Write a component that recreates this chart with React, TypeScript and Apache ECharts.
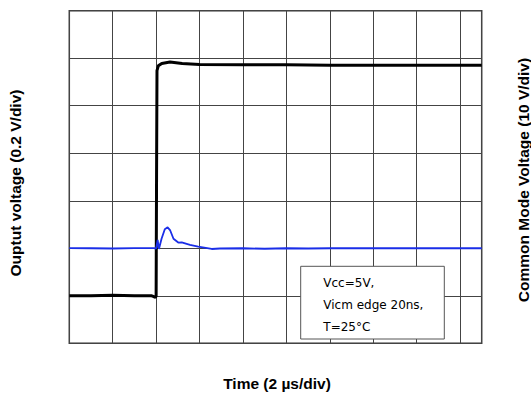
import React, { useEffect, useRef } from "react";
import * as echarts from "echarts";

// Time in µs (2 µs/div)
const xTicks = { min: 0, max: 19, interval: 2 };
// Common mode voltage step (V), right axis 10 V/div
const cmTime = [0, 1, 2, 3, 3.8, 3.9, 3.97, 4.0, 4.02, 4.04, 4.1, 4.26, 4.64, 5.2, 6.0, 8, 10, 12, 14, 16, 19];
const cmVolt = [10.0, 10.0, 10.1, 10.0, 10.0, 9.8, 9.7, 9.9, 35, 57.4, 58.4, 58.9, 59.2, 58.9, 58.7, 58.6, 58.6, 58.5, 58.5, 58.5, 58.5];
// Output voltage (V), left axis 0.2 V/div
const outTime = [0, 1, 2, 3, 3.9, 4.0, 4.03, 4.07, 4.13, 4.25, 4.4, 4.53, 4.65, 4.8, 5.02, 5.18, 5.56, 5.94, 6.56, 6.94, 8, 9, 10, 11, 12, 13, 14, 15, 16, 17, 18, 19];
const outVolt = [0.401, 0.400, 0.399, 0.401, 0.401, 0.399, 0.400, 0.435, 0.397, 0.44, 0.48, 0.488, 0.475, 0.44, 0.424, 0.425, 0.414, 0.407, 0.397, 0.399, 0.400, 0.398, 0.400, 0.399, 0.400, 0.401, 0.400, 0.400, 0.400, 0.401, 0.400, 0.400];

const xTitle = "Time (2 µs/div)";
const leftTitle = "Ouptut voltage (0.2 V/div)";
const rightTitle = "Common Mode Voltage (10 V/div)";
const noteLines = ["Vcc=5V,", "Vicm edge 20ns,", "T=25°C"];

export default function App() {
  const ref = useRef<HTMLDivElement>(null);
  useEffect(() => {
    if (!ref.current) return;
    const chart = echarts.init(ref.current, undefined, { renderer: "svg" });
    const gridLeft = 69.3, gridTop = 10.7, gridW = 412.4, gridH = 332.6;
    const hidden = { axisLine: { show: false }, axisTick: { show: false }, axisLabel: { show: false } };
    const split = { show: true, lineStyle: { color: "#444", width: 1 } };
    chart.setOption({
      animation: false,
      backgroundColor: "#fff",
      grid: { left: gridLeft, top: gridTop, width: gridW, height: gridH, show: true, borderColor: "#333", borderWidth: 1.5, backgroundColor: "transparent" },
      xAxis: { type: "value", min: xTicks.min, max: xTicks.max, interval: xTicks.interval, ...hidden, splitLine: split },
      yAxis: [
        { type: "value", min: 0, max: 1.4, interval: 0.2, ...hidden, splitLine: split },
        { type: "value", min: 0, max: 70, interval: 10, ...hidden, splitLine: { show: false } },
      ],
      series: [
        {
          type: "line", yAxisIndex: 1, showSymbol: false, silent: true,
          data: cmTime.map((t, i) => [t, cmVolt[i]]),
          lineStyle: { color: "#000", width: 3 }, z: 3,
        },
        {
          type: "line", yAxisIndex: 0, showSymbol: false, silent: true,
          data: outTime.map((t, i) => [t, outVolt[i]]),
          lineStyle: { color: "#1a2ee8", width: 1.8 }, z: 4,
        },
      ],
      graphic: [
        { type: "rect", z: 100, shape: { x: 300.7, y: 266.3, width: 143.6, height: 72.7 }, style: { fill: "#fff", stroke: "#555", lineWidth: 1 } },
        ...noteLines.map((t, i) => ({
          type: "text", z: 101, x: 323.3, y: 283.3 + i * 21.7,
          style: { text: t, fill: "#000", font: "12px 'DejaVu Sans'", textAlign: "left", textVerticalAlign: "middle" },
        })),
        { type: "text", z: 101, x: 277, y: 383, style: { text: xTitle, fill: "#000", font: "bold 15.5px 'Liberation Sans'", textAlign: "center", textVerticalAlign: "middle" } },
        { type: "text", z: 101, x: 15, y: 183, rotation: Math.PI / 2, style: { text: leftTitle, fill: "#000", font: "bold 15.5px 'Liberation Sans'", textAlign: "center", textVerticalAlign: "middle" } },
        { type: "text", z: 101, x: 523, y: 180, rotation: Math.PI / 2, style: { text: rightTitle, fill: "#000", font: "bold 15.5px 'Liberation Sans'", textAlign: "center", textVerticalAlign: "middle" } },
      ],
    });
    return () => chart.dispose();
  }, []);
  return <div ref={ref} style={{ position: "fixed", left: 0, top: 0, width: 531, height: 394 }} />;
}
